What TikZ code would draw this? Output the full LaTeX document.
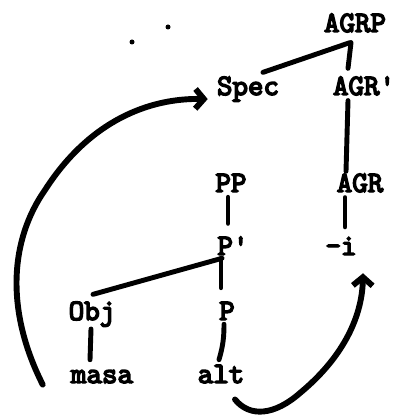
\documentclass[tikz,border=0pt]{standalone}
\usepackage{fontspec}
\usepackage{tikz}
\usetikzlibrary{arrows.meta,calc}
\newfontfamily\treefont{lmmono10-regular.otf}[FakeBold=5]

\begin{document}
\begin{tikzpicture}[
    x=0.025cm, y=-0.025cm,
    every node/.style={font=\treefont\fontsize{21}{22}\selectfont, inner sep=0pt, anchor=base},
    branch/.style={line width=3.5pt, line cap=round},
    move/.style={-{Straight Barb[length=6pt, width=14pt]}, line width=4.2pt, line cap=round},
]
\useasboundingbox (0,0) rectangle (403,419);

% === AGRP projection ===
\node (agrp) at (355,32) {AGRP};
\node (spec) at (248,95) {Spec};
\node (agrbar) at (364,95) {AGR\textquotesingle};
\node (agr) at (360,192) {AGR};
\node (suf) at (341,255) {-i};

% === PP projection ===
\node (pp) at (231,192) {PP};
\node (pbar) at (233,255) {P\textquotesingle};
\node (obj) at (92,320) {Obj};
\node (p) at (227,320) {P};
\node (masa) at (102,383) {masa};
\node (alt) at (221,383) {alt};

% Branches
\draw[branch] ($(agrp.south)+(-5,10)$) -- ($(spec.north)+(15,-4)$);
\draw[branch] ($(agrp.south)+(-4,10)$) -- ($(agrbar.north)+(-16,-8)$);
\draw[branch] ($(agrbar.south)+(-16,5)$) -- ($(agr.north)+(-14,-2)$);
\draw[branch] ($(agr.south)+(-15,5)$) -- ($(suf.north)+(4,-10)$);
\draw[branch] ($(pp.south)+(-3,5)$) -- ($(pbar.north)+(-5,-13)$);
\draw[branch] ($(pbar.south)+(-11,3)$) -- ($(obj.north)+(1,-7)$);
\draw[branch] ($(pbar.south)+(-12,3)$) -- ($(p.north)+(-6,-14)$);
\draw[branch] ($(obj.south)+(-1,2)$) -- ($(masa.north)+(-12,-10)$);
\draw[branch] ($(p.south)+(-3,4)$) to[bend left=8] ($(alt.north)+(-2,-5)$);

% Movements
\draw[move] ($(masa.west)+(-28,8)$) .. controls (5,310) and (10,240) .. (45,190)
    .. controls (90,120) and (150,98) .. ($(spec.west)+(-9,10)$);
\draw[move] ($(alt.south)+(14,16)$) .. controls (250,418) and (275,415) .. (300,393)
    .. controls (340,360) and (362,320) .. ($(suf.south)+(22,18)$);

% stray specks
\fill (132,42) circle (2.5);
\fill (168,27) circle (2.5);

\end{tikzpicture}
\end{document}
